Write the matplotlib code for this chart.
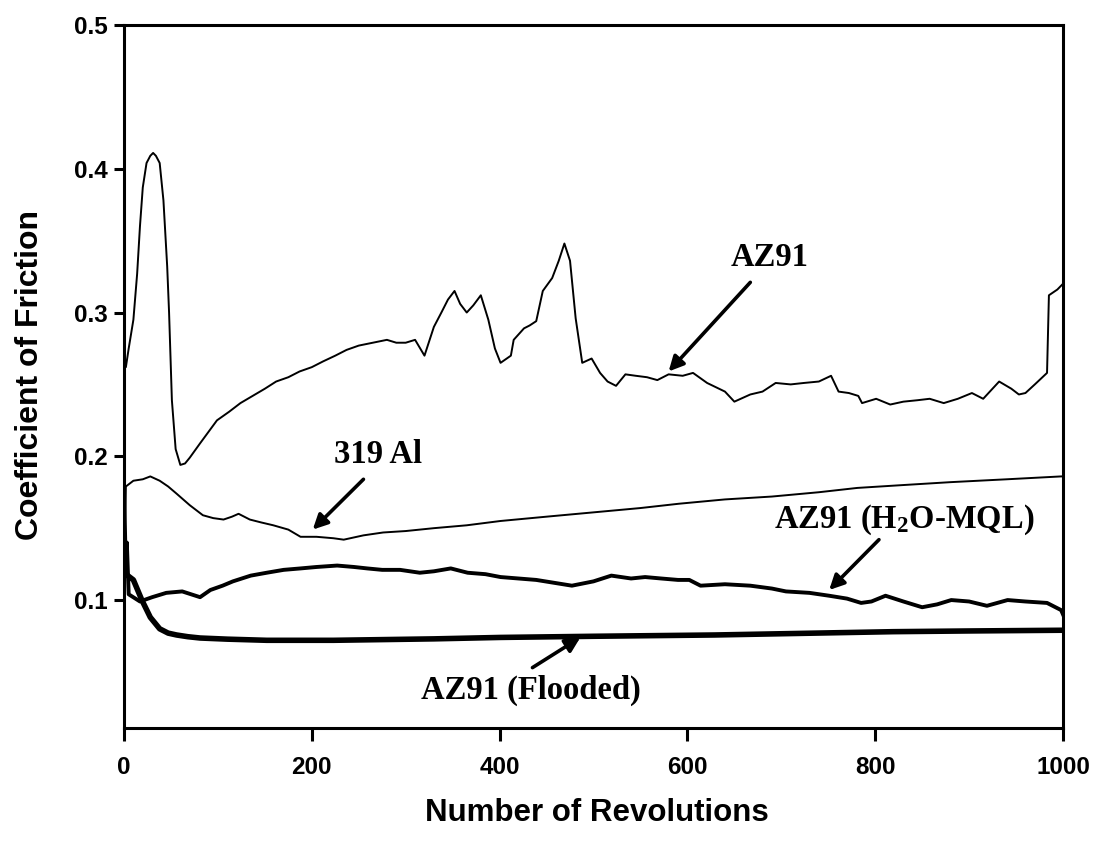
import matplotlib
matplotlib.use("Agg")
import matplotlib.pyplot as plt

plt.rcParams['mathtext.fontset'] = 'custom'
plt.rcParams['mathtext.bf'] = 'Liberation Serif:bold'
plt.rcParams['mathtext.rm'] = 'Liberation Serif:bold'
plt.rcParams['mathtext.default'] = 'bf'

# ---- data ----
az91_x = [0, 2, 5, 10, 14, 17, 20, 24, 28, 31, 34, 38, 42, 46, 48, 51, 55, 60, 65, 70, 81, 90,
          99, 112, 124, 137, 150, 162, 175, 187, 200, 212, 225, 237, 250, 265, 280, 290, 300,
          310, 320, 330, 338, 345, 352, 358, 365, 372, 380, 388, 395, 401, 412, 415, 426, 432,
          439, 446, 456, 463, 469, 475, 481, 488, 498, 507, 515, 524, 534, 545, 557, 568, 580,
          595, 606, 621, 640, 650, 667, 680, 694, 710, 724, 740, 753, 761, 772, 782, 786, 801,
          816, 830, 845, 858, 873, 888, 903, 915, 932, 945, 953, 960, 970, 983, 985, 994, 1000]
az91_y = [0.268, 0.262, 0.275, 0.295, 0.327, 0.360, 0.387, 0.404, 0.409, 0.411, 0.409, 0.404,
          0.378, 0.332, 0.300, 0.239, 0.205, 0.194, 0.195, 0.199, 0.209, 0.217, 0.225, 0.231,
          0.237, 0.242, 0.247, 0.252, 0.255, 0.259, 0.262, 0.266, 0.270, 0.274, 0.277, 0.279,
          0.281, 0.279, 0.279, 0.281, 0.270, 0.290, 0.300, 0.309, 0.315, 0.306, 0.300, 0.305,
          0.312, 0.295, 0.275, 0.265, 0.270, 0.281, 0.289, 0.291, 0.294, 0.315, 0.324, 0.336,
          0.348, 0.336, 0.296, 0.265, 0.268, 0.258, 0.252, 0.249, 0.257, 0.256, 0.255, 0.253,
          0.257, 0.256, 0.258, 0.251, 0.245, 0.238, 0.243, 0.245, 0.251, 0.250, 0.251, 0.252,
          0.256, 0.245, 0.244, 0.242, 0.237, 0.240, 0.236, 0.238, 0.239, 0.240, 0.237, 0.240,
          0.244, 0.240, 0.252, 0.247, 0.243, 0.244, 0.250, 0.258, 0.312, 0.316, 0.320]

al319_x = [0, 1, 2, 10, 20, 28, 38, 47, 56, 70, 84, 95, 106, 115, 122, 134, 146, 159, 175, 188,
           205, 223, 234, 255, 276, 300, 330, 365, 401, 450, 500, 550, 591, 640, 690, 740,
           781, 830, 880, 940, 998, 1000]
al319_y = [0.100, 0.150, 0.179, 0.183, 0.184, 0.186, 0.183, 0.179, 0.174, 0.166, 0.159, 0.157,
           0.156, 0.158, 0.160, 0.156, 0.154, 0.152, 0.149, 0.144, 0.144, 0.143, 0.142, 0.145,
           0.147, 0.148, 0.150, 0.152, 0.155, 0.158, 0.161, 0.164, 0.167, 0.170, 0.172, 0.175,
           0.178, 0.180, 0.182, 0.184, 0.186, 0.186]

mql_x = [0, 2, 3, 5, 17, 30, 45, 62, 81, 92, 105, 116, 135, 152, 170, 188, 205, 227, 245, 259,
         275, 294, 315, 330, 348, 366, 385, 401, 420, 439, 458, 477, 500, 519, 540, 555, 572,
         590, 602, 614, 640, 667, 690, 705, 730, 751, 770, 785, 796, 811, 830, 850, 866, 881,
         900, 919, 941, 960, 983, 998, 1000]
mql_y = [0.180, 0.120, 0.140, 0.104, 0.099, 0.102, 0.105, 0.106, 0.102, 0.107, 0.110, 0.113,
         0.117, 0.119, 0.121, 0.122, 0.123, 0.124, 0.123, 0.122, 0.121, 0.121, 0.119, 0.120,
         0.122, 0.119, 0.118, 0.116, 0.115, 0.114, 0.112, 0.110, 0.113, 0.117, 0.115, 0.116,
         0.115, 0.114, 0.114, 0.110, 0.111, 0.110, 0.108, 0.106, 0.105, 0.103, 0.101, 0.098,
         0.099, 0.103, 0.099, 0.095, 0.097, 0.100, 0.099, 0.096, 0.100, 0.099, 0.098, 0.093,
         0.090]

flood_x = [0, 10, 19, 28, 38, 47, 56, 68, 81, 110, 152, 223, 330, 401, 500, 629, 720, 819, 900,
           1000]
flood_y = [0.119, 0.114, 0.100, 0.088, 0.080, 0.077, 0.0757, 0.0745, 0.0736, 0.0728, 0.072,
           0.072, 0.073, 0.074, 0.0748, 0.0757, 0.0768, 0.078, 0.0785, 0.079]

x_ticks = [0, 200, 400, 600, 800, 1000]
y_ticks = [0.1, 0.2, 0.3, 0.4, 0.5]
y_ticklabels = ['0.1', '0.2', '0.3', '0.4', '0.5']

# ---- figure ----
fig = plt.figure(figsize=(10.94, 8.44), dpi=100)
ax = fig.add_axes([124/1094, 1 - 728/844, (1063-124)/1094, (728-25)/844])

ax.plot(az91_x, az91_y, color='black', lw=1.4)
ax.plot(al319_x, al319_y, color='black', lw=1.4)
ax.plot(mql_x, mql_y, color='black', lw=2.8)
ax.plot(flood_x, flood_y, color='black', lw=4.0)

ax.set_xlim(0, 1000)
ax.set_ylim(0.011, 0.5)
ax.set_xticks(x_ticks)
ax.set_xticklabels([str(v) for v in x_ticks])
ax.set_yticks(y_ticks)
ax.set_yticklabels(y_ticklabels)

for s in ax.spines.values():
    s.set_linewidth(2.2)
ax.tick_params(axis='y', direction='out', length=7, width=2.2, pad=5)
ax.tick_params(axis='x', direction='out', length=9, width=2.2, pad=11)
for lab in ax.get_xticklabels() + ax.get_yticklabels():
    lab.set_fontfamily('Liberation Sans')
    lab.set_fontweight('bold')
    lab.set_fontsize(17.5)

ax.set_ylabel('Coefficient of Friction', fontfamily='Liberation Sans', fontweight='bold',
              fontsize=23)
ax.set_xlabel('Number of Revolutions', fontfamily='Liberation Sans', fontweight='bold',
              fontsize=22.5)
ax.yaxis.set_label_coords(-0.084, 0.502)
ax.xaxis.set_label_coords(0.504, -0.100)

arrow = dict(arrowstyle='-|>', lw=2.6, color='black', mutation_scale=22, shrinkA=0, shrinkB=0)
tfont = dict(fontfamily='Liberation Serif', fontweight='bold', fontsize=23.5,
             ha='center', va='center')

ax.annotate('', xy=(580, 0.259), xytext=(667, 0.321), arrowprops=arrow)
ax.text(688, 0.338, 'AZ91', **tfont)

ax.annotate('', xy=(201, 0.149), xytext=(255, 0.184), arrowprops=arrow)
ax.text(271, 0.201, '319 Al', **tfont)

ax.annotate('', xy=(751, 0.107), xytext=(804, 0.142), arrowprops=arrow)
ax.text(831, 0.156, 'AZ91 (H$_2$O-MQL)', **tfont)

ax.annotate('', xy=(486, 0.074), xytext=(435, 0.053), arrowprops=arrow)
ax.text(433, 0.037, 'AZ91 (Flooded)', **tfont)

fig.savefig('out.png', dpi=100)
